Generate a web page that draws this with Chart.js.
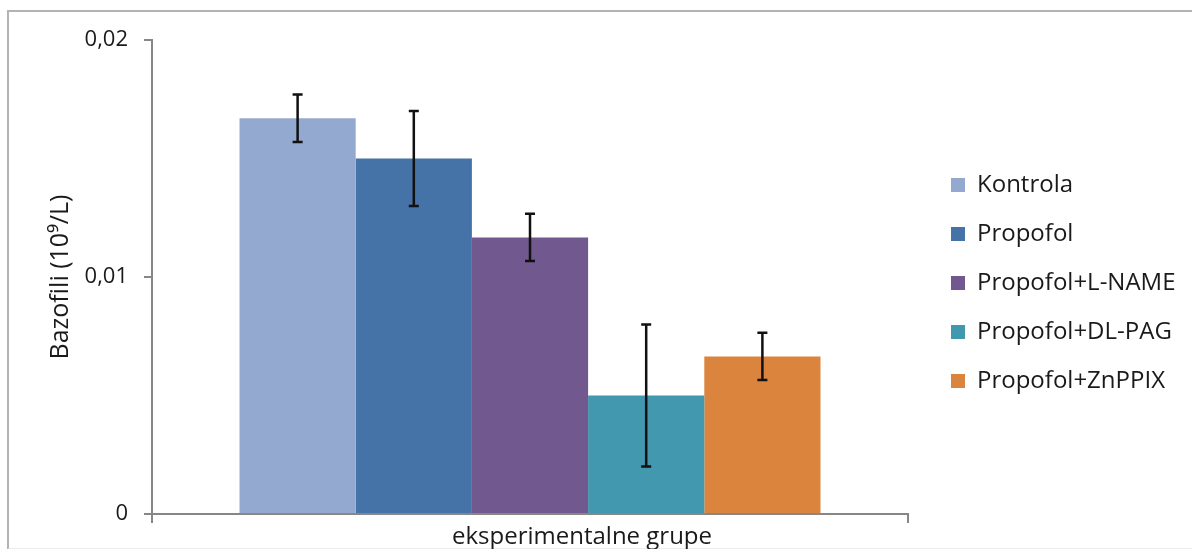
<!DOCTYPE html>
<html>
<head>
<meta charset="utf-8">
<script src="https://cdn.jsdelivr.net/npm/chart.js"></script>
<style>
  html, body { margin: 0; padding: 0; background: #fff; overflow: hidden; }
  #wrap { position: relative; width: 1192px; height: 549px; overflow: hidden; }
  #frame { position: absolute; left: 7px; top: 10px; width: 1300px; height: 536px;
           border: 2px solid #b3b3b3; border-bottom-color: #ececec; }
  #bazofili { position: absolute; left: 0; top: 0; }
</style>
</head>
<body>
<div id="wrap">
  <div id="frame"></div>
  <canvas id="bazofili" width="1192" height="549"></canvas>
</div>
<script>
// basophil counts per experimental group (10^9/L), mean and error bar half-width
const category = ['eksperimentalne grupe'];
const groups = ['Kontrola', 'Propofol', 'Propofol+L-NAME', 'Propofol+DL-PAG', 'Propofol+ZnPPIX'];
const means = [0.0167, 0.0150, 0.01167, 0.0050, 0.00665];
const errors = [0.0010, 0.0020, 0.0010, 0.0030, 0.0010];
const colors = ['#93a9cf', '#4572a7', '#71588f', '#4198af', '#db843d'];
const yTicks = [0, 0.01, 0.02];
const yTickLabels = ['0', '0,01', '0,02'];

const FONT = "'Open Sans', 'Noto Sans', 'DejaVu Sans', sans-serif";
const axisGray = '#878787';

// draws the black whiskers on top of every bar
const errorBars = {
  id: 'errorBars',
  afterDatasetsDraw(chart) {
    const { ctx, scales: { y } } = chart;
    ctx.save();
    ctx.strokeStyle = '#111';
    ctx.lineWidth = 2.5;
    chart.data.datasets.forEach((ds, i) => {
      chart.getDatasetMeta(i).data.forEach((bar, j) => {
        const v = ds.data[j], e = errors[i];
        const hi = y.getPixelForValue(v + e), lo = y.getPixelForValue(v - e);
        const x = bar.x, cap = 5;
        ctx.beginPath();
        ctx.moveTo(x, hi); ctx.lineTo(x, lo);
        ctx.moveTo(x - cap, hi); ctx.lineTo(x + cap, hi);
        ctx.moveTo(x - cap, lo); ctx.lineTo(x + cap, lo);
        ctx.stroke();
      });
    });
    ctx.restore();
  }
};

// legend sits right of the plot with a gap before the swatches
const legendSpot = {
  id: 'legendSpot',
  afterInit(chart) {
    const lg = chart.legend;
    const fit = lg.fit;
    lg.fit = function () { fit.call(this); this.width = 1192 - 908; };
  },
  afterLayout(chart) {
    chart.legend.left += 18;
    chart.legend.top -= 23;
  }
};

new Chart(document.getElementById('bazofili'), {
  type: 'bar',
  data: {
    labels: category,
    datasets: groups.map((g, i) => ({
      label: g,
      data: [means[i]],
      backgroundColor: colors[i],
      borderWidth: 0,
      categoryPercentage: 0.7685,
      barPercentage: 1
    }))
  },
  options: {
    responsive: false,
    animation: false,
    devicePixelRatio: 1,
    layout: { padding: { left: 0, right: 0, top: 40, bottom: 0 } },
    plugins: {
      legend: {
        position: 'right',
        align: 'center',
        labels: {
          boxWidth: 14,
          boxHeight: 14,
          padding: 25,
          color: '#1a1a1a',
          font: { family: FONT, size: 24 }
        }
      },
      tooltip: { enabled: false }
    },
    scales: {
      x: {
        afterFit(scale) { scale.height = 35; },
        grid: { display: true, offset: true, drawOnChartArea: false, drawTicks: true, tickLength: 9, color: axisGray, lineWidth: 2 },
        border: { display: true, color: axisGray, width: 2 },
        ticks: {
          padding: 0,
          labelOffset: 52,
          color: '#1a1a1a',
          font: { family: FONT, size: 24 }
        }
      },
      y: {
        min: 0,
        max: 0.02,
        afterFit(scale) { scale.width = 152; },
        afterBuildTicks(scale) { scale.ticks = yTicks.map(v => ({ value: v })); },
        grid: { display: true, drawOnChartArea: false, drawTicks: true, tickLength: 8, color: axisGray, lineWidth: 2 },
        border: { display: true, color: axisGray, width: 2 },
        ticks: {
          padding: 16,
          color: '#1a1a1a',
          font: { family: FONT, size: 22 },
          callback: (v) => yTickLabels[yTicks.indexOf(v)]
        },
        title: {
          display: true,
          text: 'Bazofili (10⁹/L)',
          color: '#1a1a1a',
          font: { family: FONT, size: 25 },
          padding: { top: 46, bottom: 0 }
        }
      }
    }
  },
  plugins: [errorBars, legendSpot]
});
</script>
</body>
</html>
